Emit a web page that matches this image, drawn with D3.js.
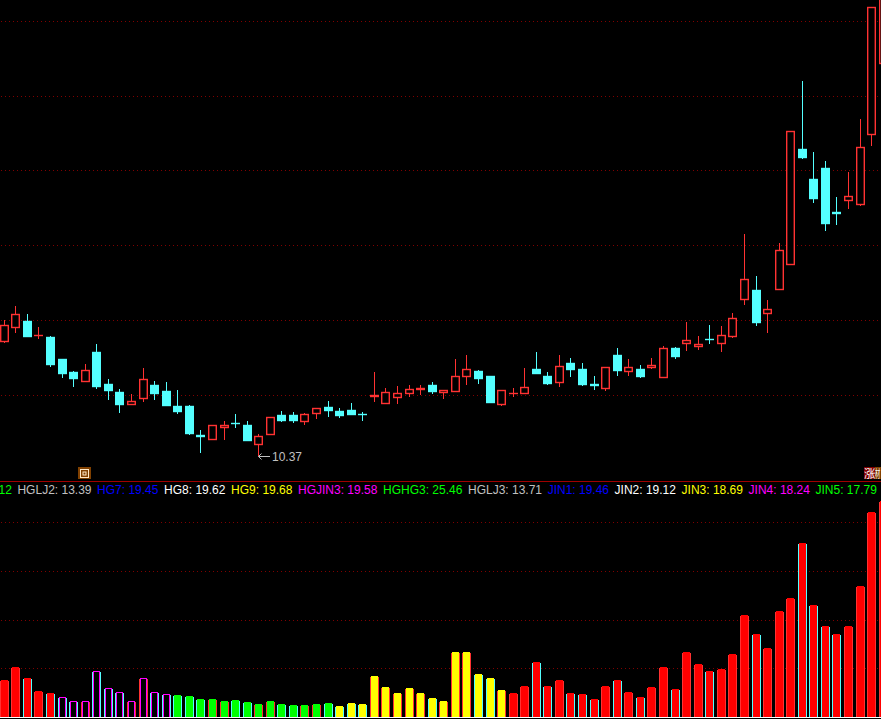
<!DOCTYPE html>
<html><head><meta charset="utf-8">
<script src="https://cdn.jsdelivr.net/npm/d3@7"></script>
<style>html,body{margin:0;padding:0;background:#000;overflow:hidden}svg{display:block}</style>
</head><body><svg id="c" width="881" height="719"></svg>
<script>
const opens =[13.46,13.83,13.98,13.60,13.56,12.96,12.61,12.39,13.15,12.29,12.08,11.78,11.94,12.27,12.11,11.71,11.71,10.94,10.84,11.14,11.26,11.20,10.69,10.97,11.47,11.47,11.30,11.52,11.68,11.57,11.60,11.50,11.97,11.80,11.96,12.05,12.16,12.27,12.10,12.12,12.51,12.64,12.51,11.78,12.05,12.05,12.70,12.51,12.36,12.86,12.70,12.29,12.20,13.07,12.66,12.70,12.77,12.50,13.26,13.41,13.33,13.51,13.41,13.59,14.58,14.81,14.21,14.83,15.50,18.59,17.78,18.07,16.90,17.21,17.11,18.98,20.89];
const closes=[13.87,14.17,13.59,13.60,12.84,12.60,12.47,12.67,12.26,12.15,11.78,11.84,12.43,12.07,11.75,11.59,11.00,10.90,11.21,11.20,11.25,10.81,10.90,11.43,11.35,11.35,11.49,11.65,11.61,11.48,11.51,11.49,12.01,12.08,12.05,12.16,12.20,12.12,12.14,12.51,12.70,12.47,11.83,12.13,12.05,12.21,12.60,12.34,12.78,12.71,12.31,12.28,12.75,12.68,12.75,12.52,12.81,13.26,13.06,13.47,13.37,13.50,13.60,14.06,15.10,13.97,14.30,15.88,19.06,18.38,17.28,16.62,16.88,17.34,18.63,22.37,23.20];
const highs =[14.01,14.39,14.17,13.82,13.59,12.96,12.65,12.83,13.36,12.43,12.16,12.03,12.72,12.37,12.35,12.13,11.73,11.06,11.21,11.30,11.49,11.30,10.96,11.43,11.57,11.55,11.52,11.65,11.85,11.65,11.79,11.55,12.61,12.19,12.24,12.27,12.27,12.35,12.14,12.97,13.07,12.67,12.51,12.13,12.19,12.72,13.15,12.61,13.07,12.99,12.86,12.51,12.75,13.26,12.96,12.80,12.99,13.31,13.28,13.95,13.58,13.87,13.84,14.19,16.30,15.18,14.54,16.06,19.06,20.40,18.50,18.26,17.29,17.96,19.38,22.37,23.20];
const lows  =[13.41,13.67,13.57,13.51,12.76,12.47,12.23,12.39,12.18,11.88,11.53,11.74,11.83,11.88,11.72,11.51,10.95,10.47,10.84,10.81,11.13,10.79,10.37,10.97,11.29,11.27,11.21,11.37,11.43,11.40,11.51,11.32,11.83,11.80,11.78,11.96,12.02,12.04,11.91,12.12,12.28,12.31,11.79,11.72,11.96,12.05,12.58,12.28,12.23,12.50,12.26,12.15,12.12,12.52,12.52,12.47,12.71,12.50,12.98,13.19,13.22,13.38,13.17,13.54,14.42,13.86,13.67,14.83,15.50,18.33,17.15,16.40,16.56,16.99,17.07,18.67,20.89];
const volumes=[76.6,103,81,54,50,42,33,33,95,60,52,33,81,52,48,46,44,37,37,33,35,31,27,33,27,25,25,27,29,23,29,27,85,62,50,60,50,40,33,134,134,89,81,56,50,64,114,64,76.6,50,48,37,64,76,52,42,62,103,58,134,109,95,99,130,210,171,142,219,245,358.5,231,188,171,188,270,422,445];
const toneSpans=[["#ff0000",5],["#ff00ff",10],["#00ff00",14],["#ffff00",15],["#ff0000",33]];
const priceTicks=[12,14,16,18,20,22];
const volumeTicks=[100,200,300,400];
const lowLabel="10.37", lowIndex=22;
const labelNames =["","HGLJ2","HG7","HG8","HG9","HGJIN3","HGHG3","HGLJ3","JIN1","JIN2","JIN3","JIN4","JIN5"];
const labelValues=["12","13.39","19.45","19.62","19.68","19.58","25.46","13.71","19.46","19.12","18.69","18.24","17.79"];
const labelColors=["#00ff00","#c0c0c0","#0000ff","#ffffff","#ffff00","#ff00ff","#00ff00","#c0c0c0","#0000ff","#ffffff","#ffff00","#ff00ff","#00ff00"];

const UP="#ff3232", DOWN="#54ffff", GRID="#800000";
const svg=d3.select("#c");
svg.append("rect").attr("width",881).attr("height",719).attr("fill","#000");
const x=d3.scaleLinear().domain([0,76]).range([4.3,4.3+76*11.565]);
const cx=i=>Math.floor(x(i));
const y=d3.scaleLinear().domain([12,22]).range([395.3,21.3]);
const v=d3.scaleLinear().domain([0,400]).range([717.2,522.8]);
const idx=d3.range(opens.length);
const isDown=i=>closes[i]<opens[i];
const col=i=>isDown(i)?DOWN:UP;
const tones=toneSpans.flatMap(([c,n])=>d3.range(n).map(()=>c));

// grid
const grid=(g,ticks,s)=>g.selectAll("line").data(ticks).join("line")
  .attr("x1",1).attr("x2",878).attr("y1",d=>Math.floor(s(d))+.5).attr("y2",d=>Math.floor(s(d))+.5)
  .attr("stroke",GRID).attr("stroke-dasharray","1 3");
svg.append("g").call(grid,priceTicks,y);
svg.append("g").call(grid,volumeTicks,v);

// candles
const SW=1.4;
const c=svg.append("g").selectAll("g").data(idx).join("g");
c.append("rect").attr("x",i=>cx(i)).attr("width",1)
  .attr("y",i=>Math.round(y(highs[i]))).attr("height",i=>Math.max(1,Math.round(y(lows[i]))-Math.round(y(highs[i]))))
  .attr("fill",col);
c.append("rect")
  .attr("x",i=>cx(i)-4+SW/2).attr("width",9-SW)
  .attr("y",i=>Math.round(y(Math.max(opens[i],closes[i])))+.5)
  .attr("height",i=>Math.max(.01,Math.round(y(Math.min(opens[i],closes[i])))-Math.round(y(Math.max(opens[i],closes[i])))))
  .attr("fill",i=>isDown(i)?DOWN:"#000").attr("stroke",col).attr("stroke-width",SW);

// low marker
const lx=cx(lowIndex), ly=Math.round(y(lows[lowIndex]));
const mk=svg.append("g").attr("stroke","#c0c0c0").attr("fill","none");
mk.append("path").attr("d",`M${lx+12},${ly+.5}H${lx+.5}M${lx+3.5},${ly-2.5}L${lx+.5},${ly+.5}L${lx+3.5},${ly+3.5}`);
svg.append("text").attr("x",lx+14).attr("y",ly+5).attr("fill","#c0c0c0")
  .attr("font-family","Liberation Sans").attr("font-size",12).text(lowLabel);

// separator
svg.append("rect").attr("x",0).attr("y",481).attr("width",881).attr("height",1).attr("fill","#a00000");

// icons
const ic=svg.append("g");
ic.append("rect").attr("x",78).attr("y",467).attr("width",13).attr("height",12).attr("fill","#804000");
ic.append("rect").attr("x",80.5).attr("y",469.5).attr("width",8).attr("height",8).attr("fill","none").attr("stroke","#ffe8c8");
ic.append("rect").attr("x",83).attr("y",472).attr("width",3).attr("height",3).attr("fill","none").attr("stroke","#ffe8c8");
ic.append("rect").attr("x",864).attr("y",467).attr("width",11).attr("height",12).attr("fill","#800000");
ic.append("rect").attr("x",875).attr("y",467).attr("width",6).attr("height",12).attr("fill","#804000");
ic.append("text").attr("x",864).attr("y",477.5).attr("fill","#fff").attr("font-size",11.5)
  .attr("font-family","Noto Sans CJK SC").text("涨");
ic.append("text").attr("transform","translate(875,477.5) scale(.45,1)").attr("fill","#fff").attr("font-size",11.5)
  .attr("font-family","Noto Sans CJK SC").text("材");

// label row
let lxPos=-1.5;
const lab=svg.append("g").attr("font-family","Liberation Sans").attr("font-size",12);
labelValues.forEach((val,i)=>{
  const t=lab.append("text").attr("x",lxPos).attr("y",494).attr("fill",labelColors[i])
    .text((labelNames[i]?labelNames[i]+": ":"")+val);
  lxPos+=t.node().getComputedTextLength()+5.6;
});

// volume bars
const b=svg.append("g").selectAll("g").data(idx).join("g");
const top_=i=>Math.round(v(volumes[i]));
const base=717;
b.append("rect").attr("x",i=>cx(i)-4).attr("width",9).attr("y",i=>top_(i)+1).attr("height",i=>base-top_(i)-1).attr("fill",i=>isDown(i)?DOWN:UP);
b.append("rect").attr("x",i=>cx(i)-3).attr("width",7).attr("y",top_).attr("height",i=>base-top_(i)).attr("fill",i=>tones[i]);
b.filter(i=>tones[i]==="#ff00ff").append("rect").attr("x",i=>cx(i)-2).attr("width",5).attr("y",i=>top_(i)+1).attr("height",i=>base-top_(i)-1).attr("fill","#000");
svg.append("rect").attr("x",0).attr("y",717).attr("width",881).attr("height",1).attr("fill","#fff");
</script></body></html>
